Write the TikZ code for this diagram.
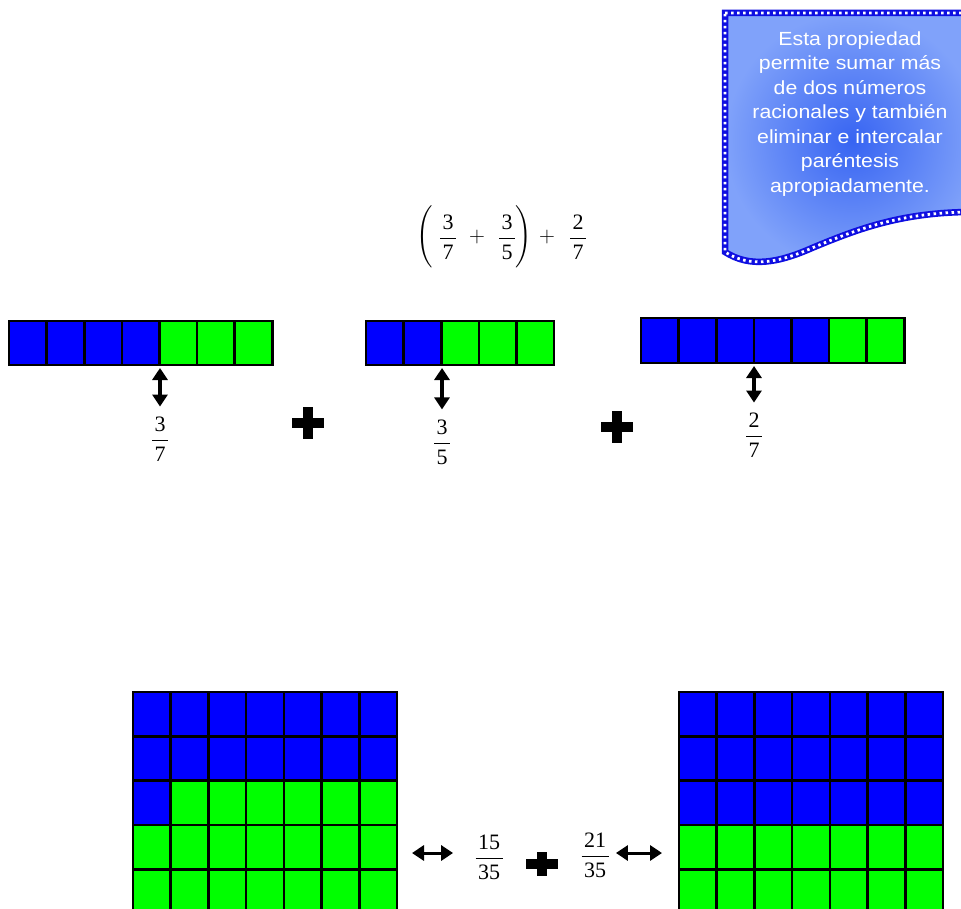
\RequirePackage{fix-cm}
\documentclass[tikz,border=0pt]{standalone}
\usepackage{amsmath}
\usepackage{fontspec}
\setmainfont{Liberation Serif}
\newfontfamily\calloutfont[FakeStretch=1.12]{Liberation Sans}
\usetikzlibrary{arrows.meta}
\definecolor{cellblue}{RGB}{0,0,255}
\definecolor{cellgreen}{RGB}{0,255,0}
\definecolor{calloutin}{RGB}{55,100,242}
\definecolor{calloutout}{RGB}{128,162,250}
\definecolor{borderblue}{RGB}{15,15,225}
\newcommand\fr[2]{$\dfrac{\hspace{2.5pt}\text{#1}\hspace{2.5pt}}{\text{#2}}$}
\tikzset{
  cell/.style={draw=black,line width=2.6pt},
  dblarrow/.style={{Triangle[width=15pt,length=12pt]}-{Triangle[width=15pt,length=12pt]},line width=3.4pt},
  fracnode/.style={font=\fontsize{22}{26}\selectfont,inner sep=0pt},
  notetext/.style={text=white,align=center,inner sep=0pt,font=\calloutfont\fontsize{19}{24.5}\selectfont}
}
\newcommand\mybar[6]{% x0 y0 w h n nblue
  \foreach \i in {1,...,#5}{%
    \ifnum\i>#6 \def\cc{cellgreen}\else\def\cc{cellblue}\fi
    \filldraw[cell,fill=\cc] ({#1+(\i-1)*#3},#2) rectangle ++(#3,#4);
  }}
\newcommand\mygrid[5]{% x0 y0 w h nblue
  \foreach \r in {0,...,4}{\foreach \c in {0,...,6}{%
    \pgfmathtruncatemacro\k{\r*7+\c}%
    \ifnum\k<#5 \def\cc{cellblue}\else\def\cc{cellgreen}\fi
    \filldraw[cell,fill=\cc] ({#1+\c*#3},{#2+\r*#4}) rectangle ++(#3,#4);
  }}}
\newcommand\plussign[4]{% cx cy w h
  \fill[black] ({#1-#3/2},{#2-5}) rectangle ({#1+#3/2},{#2+5});
  \fill[black] ({#1-5},{#2-#4/2}) rectangle ({#1+5},{#2+#4/2});}
\begin{document}
\begin{tikzpicture}[x=1pt,y=-1pt]
\useasboundingbox (0,0) rectangle (961,909);
\clip (0,0) rectangle (961,909);

% callout
\def\calloutpath{(725,13) -- (980,13) -- (980,212) .. controls (905,211) and (860,228) .. (812,248) .. controls (778,263) and (750,268) .. (725,252) -- cycle}
\shade[inner color=calloutin,outer color=calloutout] \calloutpath;
\draw[line width=6.5pt,borderblue] \calloutpath;
\draw[line width=2.8pt,white,dash pattern=on 2.5pt off 3.5pt] \calloutpath;
\node[notetext] (note) at (850,114) {Esta propiedad\\permite sumar más\\de dos números\\racionales y también\\eliminar e intercalar\\paréntesis\\apropiadamente.};

% formula
\node[fracnode] (lp) at (425,237) {$\Bigg($};
\node[fracnode] (e1) at (448,237) {\fr{3}{7}};
\node[fracnode] (p1) at (477,237) {$+$};
\node[fracnode] (e2) at (507,237) {\fr{3}{5}};
\node[fracnode] (rp) at (524,237) {$\Bigg)$};
\node[fracnode] (p2) at (547,237) {$+$};
\node[fracnode] (e3) at (578,237) {\fr{2}{7}};

% bars
\mybar{9}{321}{37.6}{44}{7}{4}
\mybar{366}{321}{37.6}{44}{5}{2}
\mybar{641}{318}{37.6}{45}{7}{5}

\coordinate (t1) at (160,368);
\coordinate (t2) at (442,368);
\coordinate (t3) at (754,366);
\node[fracnode] (f1) at (160,439) {\fr{3}{7}};
\node[fracnode] (f2) at (442,442) {\fr{3}{5}};
\node[fracnode] (f3) at (754,435) {\fr{2}{7}};
\draw[dblarrow,shorten >=10pt] (t1) -- (f1.north);
\draw[dblarrow,shorten >=10pt] (t2) -- (f2.north);
\draw[dblarrow,shorten >=10pt] (t3) -- (f3.north);

\plussign{308}{423}{32}{32}
\plussign{617}{427}{32}{32}

% grids
\mygrid{133}{692}{37.7}{44.3}{15}
\mygrid{679}{692}{37.7}{44.3}{21}

\node[fracnode] (g1) at (489,857) {\fr{15}{35}};
\node[fracnode] (g2) at (595,855) {\fr{21}{35}};
\coordinate (s1) at (412,853);
\coordinate (s2) at (662,853);
\draw[dblarrow,line width=3pt,shorten >=21pt] (s1) -- (g1.west |- s1);
\draw[dblarrow,line width=3pt,shorten >=6pt] (s2) -- (g2.east |- s2);
\plussign{542}{864}{32}{24}
\end{tikzpicture}
\end{document}
